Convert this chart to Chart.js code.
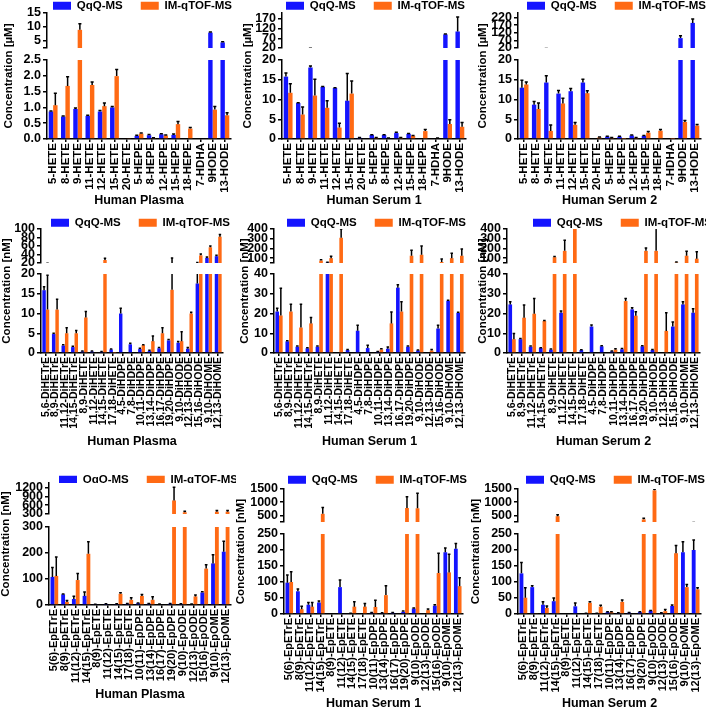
<!DOCTYPE html>
<html>
<head>
<meta charset="utf-8">
<script src="https://cdn.jsdelivr.net/npm/chart.js@4.4.1/dist/chart.umd.min.js"></script>
<style>
  html, body { margin: 0; padding: 0; background: #fff; overflow: hidden; }
  #wrap { position: relative; width: 706px; height: 708px; }
  #wrap canvas { position: absolute; }
</style>
</head>
<body>
<div id="wrap"></div>
<script>
// categorias
const hydroxyLabels = ['5-HETE', '8-HETE', '9-HETE', '11-HETE', '12-HETE', '15-HETE', '20-HETE', '5-HEPE',
  '8-HEPE', '12-HEPE', '15-HEPE', '18-HEPE', '7-HDHA', '9HODE', '13-HODE'];
const diolLabels = ['5,6-DiHETrE', '8,9-DiHETrE', '11,12-DiHETrE', '14,15-DiHETrE', '8,9-DiHETE', '11,12-DiHETE',
  '14,15-DiHETE', '17,18-DiHETE', '4,5-DiHDPE', '7,8-DiHDPE', '10,11-DiHDPE', '13,14-DiHDPE', '16,17-DiHDPE',
  '19,20-DiHDPE', '9,10-DiHODE', '12,13-DiHODE', '15,16-DiHODE', '9,10-DiHOME', '12,13-DiHOME'];
const epoxLabels = ['5(6)-EpETrE', '8(9)-EpETrE', '11(12)-EpETrE', '14(15)-EpETrE', '8(9)-EpETE', '11(12)-EpETE',
  '14(15)-EpETE', '17(18)-EpETE', '10(11)-EpDPE', '13(14)-EpDPE', '16(17)-EpDPE', '19(20)-EpDPE', '9(10)-EpODE',
  '12(13)-EpODE', '15(16)-EpODE', '9(10)-EpOME', '12(13)-EpOME'];

// hidroxi (µM)
const plasmaHydroxyQqQ = [0.87, 0.71, 0.95, 0.73, 0.87, 1.0, 0, 0.10, 0.12, 0.15, 0.13, 0, 0, 8.0, 4.5];
const plasmaHydroxyQqQErr = [0.02, 0.02, 0.03, 0.02, 0.03, 0.03, 0, 0.02, 0.02, 0.02, 0.03, 0, 0, 0.2, 0.2];
const plasmaHydroxyTof = [1.07, 1.68, 9.0, 1.71, 1.04, 1.99, 0.02, 0.17, 0.03, 0.11, 0.47, 0.33, 0, 0.93, 0.75];
const plasmaHydroxyTofErr = [0.38, 0.29, 2.2, 0.09, 0.1, 0.21, 0, 0.02, 0.01, 0.02, 0.08, 0.03, 0, 0.1, 0.08];

const serum1HydroxyQqQ = [15.8, 9.1, 18.1, 13.2, 12.9, 9.7, 0.3, 1.0, 1.0, 1.5, 1.3, 0, 0, 90, 105];
const serum1HydroxyQqQErr = [0.9, 0.1, 0.4, 0.1, 0.1, 6.9, 0.1, 0.1, 0.1, 0.2, 0.1, 0, 0, 2, 75];
const serum1HydroxyTof = [11.7, 6.2, 11.0, 7.9, 2.9, 11.5, 0, 0.3, 0.2, 0.3, 0.8, 2.0, 0.2, 3.8, 3.1];
const serum1HydroxyTofErr = [2.3, 1.9, 4.1, 1.8, 1.1, 3.2, 0, 0.05, 0.05, 0.05, 0.1, 0.4, 0.05, 1.1, 1.1];

const serum2HydroxyQqQ = [13.0, 8.7, 14.3, 11.5, 12.1, 14.3, 0, 0.6, 0.6, 0.9, 0.8, 0, 0, 85, 185];
const serum2HydroxyQqQErr = [1.9, 0.8, 1.7, 0.8, 0.7, 0.8, 0, 0.1, 0.1, 0.1, 0.1, 0, 0, 15, 25];
const serum2HydroxyTof = [13.8, 7.6, 2.05, 9.0, 3.6, 11.6, 0.4, 0.3, 0.1, 0.3, 1.6, 2.1, 0.1, 4.3, 3.4];
const serum2HydroxyTofErr = [0.6, 1.5, 1.5, 1.3, 0.6, 0.6, 0.1, 0.05, 0, 0.05, 0.3, 0.3, 0, 0.4, 0.3];

// dióis (nM)
const plasmaDiolQqQ = [15.9, 4.8, 1.9, 1.5, 0.4, 0.4, 0.3, 0.9, 10.0, 2.2, 1.0, 0.5, 1.2, 3.2, 2.6, 1.1, 17.6, 32, 36];
const plasmaDiolQqQErr = [0.9, 0.2, 0.2, 0.2, 0.1, 0.1, 0.1, 0.1, 1.3, 0.3, 0.2, 0.2, 0.2, 0.2, 0.3, 0.3, 3.5, 2, 2];
const plasmaDiolTof = [11, 11, 5, 5, 9, 0.2, 27, 0.1, 0, 0, 2.0, 3.0, 5.0, 16, 3.0, 10, 38, 57, 82];
const plasmaDiolTofErr = [8.7, 2.6, 1.4, 0.7, 1.5, 0, 4, 0, 0, 0, 0.1, 1.3, 1.4, 16, 2.4, 0.3, 3, 3, 5];

const serum1DiolQqQ = [21, 5.9, 3.2, 2.4, 3.2, 55, 0, 1.5, 11.3, 2.5, 0.7, 2.2, 33.1, 3.2, 1.3, 0, 12.4, 26.4, 20.3];
const serum1DiolQqQErr = [1.7, 0.3, 0.3, 0.2, 0.3, 2, 0, 0.3, 2.7, 1.4, 0.1, 0.8, 1.4, 0.3, 0.2, 0, 1.6, 0.3, 0.3];
const serum1DiolTof = [19, 21, 12.9, 15, 75, 100, 310, 0, 0, 0, 1.8, 15, 21, 125, 135, 1.3, 60, 100, 125];
const serum1DiolTofErr = [13.8, 3.7, 11.8, 3, 8, 20, 90, 0, 0, 0, 0.3, 5.7, 5, 55, 90, 0.5, 30, 50, 70];

const serum2DiolQqQ = [24.6, 7.0, 3.2, 2.5, 1.7, 20.4, 0, 1.5, 13.4, 3.4, 0.8, 1.9, 22.1, 3.4, 1.5, 0, 13.4, 24.6, 20.4];
const serum2DiolQqQErr = [1.3, 0.3, 0.3, 0.2, 0.3, 0.9, 0, 0.2, 0.8, 0.3, 0.2, 0.4, 0.8, 0.3, 0.3, 0, 2.3, 1.3, 2];
const serum2DiolTof = [7.0, 17.9, 19.9, 16.2, 110, 175, 420, 0, 0, 0, 1.7, 26.3, 18.9, 175, 175, 11.2, 55, 125, 95];
const serum2DiolTofErr = [2.9, 6.4, 7.7, 0.3, 8, 110, 0, 0, 0, 0, 0.4, 1.3, 2, 30, 250, 9.2, 5, 45, 70];

// epóxidos (nM)
const plasmaEpoxQqQ = [108, 41, 23, 35, 2, 4, 4, 5, 7, 5, 3, 5, 4, 3, 48, 160, 205];
const plasmaEpoxQqQErr = [36, 1, 11, 15, 0.5, 1, 1, 1, 1, 1, 1, 1, 1, 1, 3, 33, 40];
const plasmaEpoxTof = [112, 12, 96, 197, 0, 0, 43, 20, 35, 20, 0, 760, 360, 33, 140, 380, 380];
const plasmaEpoxTofErr = [73, 5, 25, 46, 0, 0, 4, 8, 5, 12, 0, 450, 30, 5, 15, 35, 35];

const serum1EpoxQqQ = [98, 71, 29, 36, 0, 84, 2, 0, 4, 3, 4, 7, 17, 0, 26, 193, 204];
const serum1EpoxQqQErr = [24, 7, 7, 5, 0, 22, 0.5, 0, 1, 1, 1, 2, 2, 0, 3, 13, 16];
const serum1EpoxTof = [100, 15, 23, 560, 0, 0, 23, 23, 22, 59, 0, 780, 770, 12, 128, 130, 87];
const serum1EpoxTofErr = [32, 9, 13, 240, 0, 0, 15, 10, 21, 29, 0, 430, 570, 4, 62, 57, 26];

const serum2EpoxQqQ = [127, 84, 29, 40, 0, 24, 2, 2, 6, 3, 4, 6, 10, 3, 25, 193, 200];
const serum2EpoxQqQErr = [34, 4, 9, 10, 0, 10, 0.5, 0.5, 1, 1, 1, 1, 1, 1, 3, 33, 31];
const serum2EpoxTof = [51, 2, 19, 470, 0, 0, 35, 23, 6, 38, 0, 350, 1450, 9, 190, 84, 77];
const serum2EpoxTofErr = [31, 0, 6, 55, 0, 0, 3, 4, 1, 6, 0, 40, 40, 5, 24, 8, 5];

// ticks dos eixos (segmento de cima / de baixo)
const plasmaHydroxyTopTicks = [5, 10, 15];
const plasmaHydroxyBottomTicks = [0, 0.5, 1, 1.5, 2, 2.5];
const serum1HydroxyTopTicks = [20, 70, 120, 170];
const serum2HydroxyTopTicks = [20, 70, 120, 170, 220];
const hydroxyBottomTicks = [0, 5, 10, 15, 20];
const plasmaDiolTopTicks = [20, 40, 60, 80, 100];
const plasmaDiolBottomTicks = [0, 5, 10, 15, 20];
const serumDiolTopTicks = [100, 200, 300, 400];
const serumDiolBottomTicks = [0, 10, 20, 30, 40];
const plasmaEpoxTopTicks = [300, 600, 900, 1200];
const plasmaEpoxBottomTicks = [0, 100, 200, 300];
const serumEpoxTopTicks = [500, 1000, 1500];
const serumEpoxBottomTicks = [0, 50, 100, 150, 200, 250];

Chart.defaults.font.family = "'Liberation Sans', Arial, sans-serif";
Chart.defaults.font.weight = 'bold';
Chart.defaults.font.size = 11;
Chart.defaults.color = '#000';

const BLUE = '#1414ff';
const ORANGE = '#ff6a14';

// barras de erro (só para cima)
const errorBars = {
  id: 'errorBars',
  afterDatasetsDraw(chart) {
    const { ctx, chartArea: a } = chart;
    const y = chart.scales.y;
    ctx.save();
    ctx.beginPath();
    ctx.rect(a.left, a.top, a.right - a.left, a.bottom - a.top);
    ctx.clip();
    ctx.strokeStyle = '#000';
    ctx.lineWidth = 1.5;
    chart.data.datasets.forEach((ds, i) => {
      chart.getDatasetMeta(i).data.forEach((bar, j) => {
        const v = ds.data[j], e = ds.errors[j];
        if (!e) return;
        const yv = y.getPixelForValue(v);
        const ye = y.getPixelForValue(v + e);
        const half = bar.width * 0.35;
        ctx.beginPath();
        ctx.moveTo(bar.x, yv);
        ctx.lineTo(bar.x, ye);
        ctx.moveTo(bar.x - half, ye);
        ctx.lineTo(bar.x + half, ye);
        ctx.stroke();
      });
    });
    ctx.restore();
  }
};

// título do eixo y centrado nos dois segmentos
const yTitle = {
  id: 'yTitle',
  afterDraw(chart, args, opts) {
    const ctx = chart.ctx;
    ctx.save();
    ctx.translate(opts.x, opts.y);
    ctx.rotate(-Math.PI / 2);
    ctx.font = "bold 11.5px 'Liberation Sans', Arial, sans-serif";
    ctx.fillStyle = '#000';
    ctx.textAlign = 'center';
    ctx.textBaseline = 'middle';
    ctx.fillText(opts.text, 0, 0);
    ctx.restore();
  }
};

// altura fixa da legenda e posição do fim
const legendPlace = {
  id: 'legendPlace',
  beforeInit(chart, args, opts) {
    const fit = chart.legend.fit;
    chart.legend.fit = function () {
      fit.call(this);
      this.height = opts.height;
    };
  },
  afterLayout(chart, args, opts) {
    const lg = chart.legend;
    const dx = opts.end - (lg.right - lg.options.labels.padding);
    lg.left += dx;
    lg.right += dx;
  }
};

const panels = [
  { x: 0, axis: 47, right: 231, legendY: 5, legendEnd: 232, top: [13, 48], bot: [60, 139], titleY: 201, titleX: 9,
    title: 'Human Plasma', unit: 'Concentration [µM]', labels: hydroxyLabels, botDec: 1, xFont: 11.5,
    qqq: plasmaHydroxyQqQ, qqqErr: plasmaHydroxyQqQErr, tof: plasmaHydroxyTof, tofErr: plasmaHydroxyTofErr,
    topRange: [2.5, 15], topTicks: plasmaHydroxyTopTicks, botRange: [0, 2.5], botTicks: plasmaHydroxyBottomTicks },
  { x: 235, axis: 282, right: 466, legendY: 5, legendEnd: 465, top: [13, 48], bot: [60, 139], titleY: 201, titleX: 248,
    title: 'Human Serum 1', unit: 'Concentration [µM]', labels: hydroxyLabels, botDec: 0, xFont: 11.5,
    qqq: serum1HydroxyQqQ, qqqErr: serum1HydroxyQqQErr, tof: serum1HydroxyTof, tofErr: serum1HydroxyTofErr,
    topRange: [20, 200], topTicks: serum1HydroxyTopTicks, botRange: [0, 20], botTicks: hydroxyBottomTicks },
  { x: 470, axis: 518, right: 701, legendY: 5, legendEnd: 706, top: [13, 48], bot: [60, 139], titleY: 201, titleX: 483,
    title: 'Human Serum 2', unit: 'Concentration [µM]', labels: hydroxyLabels, botDec: 0, xFont: 11.5,
    qqq: serum2HydroxyQqQ, qqqErr: serum2HydroxyQqQErr, tof: serum2HydroxyTof, tofErr: serum2HydroxyTofErr,
    topRange: [20, 250], topTicks: serum2HydroxyTopTicks, botRange: [0, 20], botTicks: hydroxyBottomTicks },

  { x: 0, axis: 41, right: 223, legendY: 222, legendEnd: 230, top: [229, 263], bot: [274, 353], titleY: 442, titleX: 7,
    title: 'Human Plasma', unit: 'Concentration [nM]', labels: diolLabels, botDec: 0, xFont: 10.5,
    qqq: plasmaDiolQqQ, qqqErr: plasmaDiolQqQErr, tof: plasmaDiolTof, tofErr: plasmaDiolTofErr,
    topRange: [20, 100], topTicks: plasmaDiolTopTicks, botRange: [0, 20], botTicks: plasmaDiolBottomTicks },
  { x: 235, axis: 274, right: 465, legendY: 222, legendEnd: 466, top: [229, 263], bot: [274, 353], titleY: 442, titleX: 245,
    title: 'Human Serum 1', unit: 'Concentration [nM]', labels: diolLabels, botDec: 0, xFont: 10.5,
    qqq: serum1DiolQqQ, qqqErr: serum1DiolQqQErr, tof: serum1DiolTof, tofErr: serum1DiolTofErr,
    topRange: [50, 400], topTicks: serumDiolTopTicks, botRange: [0, 40], botTicks: serumDiolBottomTicks },
  { x: 470, axis: 507, right: 700, legendY: 222, legendEnd: 712, top: [229, 263], bot: [274, 353], titleY: 442, titleX: 483,
    title: 'Human Serum 2', unit: 'Concentration [nM]', labels: diolLabels, botDec: 0, xFont: 10.5,
    qqq: serum2DiolQqQ, qqqErr: serum2DiolQqQErr, tof: serum2DiolTof, tofErr: serum2DiolTofErr,
    topRange: [50, 400], topTicks: serumDiolTopTicks, botRange: [0, 40], botTicks: serumDiolBottomTicks },

  { x: 0, axis: 49, right: 231, legendY: 479, legendEnd: 238, top: [483, 514], bot: [527, 605], titleY: 695, titleX: 6,
    title: 'Human Plasma', unit: 'Concentration [nM]', labels: epoxLabels, botDec: 0, xFont: 11,
    qqq: plasmaEpoxQqQ, qqqErr: plasmaEpoxQqQErr, tof: plasmaEpoxTof, tofErr: plasmaEpoxTofErr,
    topRange: [300, 1350], topTicks: plasmaEpoxTopTicks, botRange: [0, 300], botTicks: plasmaEpoxBottomTicks },
  { x: 235, axis: 284, right: 463, legendY: 479, legendEnd: 467, top: [489, 522], bot: [534, 614], titleY: 704, titleX: 241,
    title: 'Human Serum 1', unit: 'Concentration [nM]', labels: epoxLabels, botDec: 0, xFont: 11,
    qqq: serum1EpoxQqQ, qqqErr: serum1EpoxQqQErr, tof: serum1EpoxTof, tofErr: serum1EpoxTofErr,
    topRange: [250, 1500], topTicks: serumEpoxTopTicks, botRange: [0, 250], botTicks: serumEpoxBottomTicks },
  { x: 470, axis: 518, right: 701, legendY: 479, legendEnd: 705, top: [489, 522], bot: [534, 614], titleY: 704, titleX: 476,
    title: 'Human Serum 2', unit: 'Concentration [nM]', labels: epoxLabels, botDec: 0, xFont: 11,
    qqq: serum2EpoxQqQ, qqqErr: serum2EpoxQqQErr, tof: serum2EpoxTof, tofErr: serum2EpoxTofErr,
    topRange: [250, 1500], topTicks: serumEpoxTopTicks, botRange: [0, 250], botTicks: serumEpoxBottomTicks }
];

function drawPanel(p) {
  const wrap = document.getElementById('wrap');
  const pad = 18;
  const W = 236;
  const y0 = Math.round(p.legendY - pad - 5.5);
  const H = Math.round(p.titleY + 7.2 - y0);
  const yW = p.axis - p.x;
  const padR = p.x + W - p.right;

  function newCanvas() {
    const c = document.createElement('canvas');
    c.width = W;
    c.height = H;
    c.style.left = p.x + 'px';
    c.style.top = y0 + 'px';
    c.style.width = W + 'px';
    c.style.height = H + 'px';
    wrap.appendChild(c);
    return c;
  }

  const datasets = () => [
    { label: 'QqQ-MS', data: p.qqq.slice(), errors: p.qqqErr, backgroundColor: BLUE, borderColor: BLUE,
      borderWidth: 0, categoryPercentage: 0.72, barPercentage: 1 },
    { label: 'IM-qTOF-MS', data: p.tof.slice(), errors: p.tofErr, backgroundColor: ORANGE, borderColor: ORANGE,
      borderWidth: 0, categoryPercentage: 0.72, barPercentage: 1 }
  ];

  function yAxis(range, ticks, dec) {
    const vals = [range[0]].concat(ticks.filter(v => v !== range[0]));
    return {
      min: range[0],
      max: range[1],
      stacked: false,
      afterFit: s => { s.width = yW; s.paddingTop = 0; s.paddingBottom = 0; },
      afterBuildTicks: s => { s.ticks = vals.map(v => ({ value: v })); },
      ticks: {
        autoSkip: false,
        padding: 2,
        font: { size: 12.5 },
        callback: v => ticks.includes(v) ? v.toFixed(dec) : ''
      },
      grid: { drawOnChartArea: false, tickLength: 4, color: '#000', lineWidth: 1.5 },
      border: { color: '#000', width: 1.5 }
    };
  }

  // segmento de baixo + rótulos
  const cBottom = newCanvas();
  new Chart(cBottom, {
    type: 'bar',
    data: { labels: p.labels, datasets: datasets() },
    options: {
      responsive: false,
      animation: false,
      layout: { padding: { top: p.bot[0] - y0, right: padR, bottom: 0, left: 0 } },
      plugins: {
        legend: { display: false },
        tooltip: { enabled: false },
        yTitle: { text: p.unit, x: p.titleX - p.x, y: (p.top[0] + p.bot[1]) / 2 - y0 }
      },
      scales: {
        x: {
          ticks: { autoSkip: false, minRotation: 90, maxRotation: 90, padding: 1, font: { size: p.xFont } },
          grid: { offset: false, drawOnChartArea: false, tickLength: 3, color: '#000', lineWidth: 1.5 },
          border: { color: '#000', width: 1.5 },
          title: { display: true, text: p.title, font: { size: 12.5 }, padding: 0 },
          afterFit: s => { s.height = y0 + H - p.bot[1]; s.paddingLeft = 0; s.paddingRight = 0; }
        },
        y: yAxis(p.botRange, p.botTicks, p.botDec)
      }
    },
    plugins: [errorBars, yTitle]
  });

  // segmento de cima + legenda
  const cTop = newCanvas();
  new Chart(cTop, {
    type: 'bar',
    data: { labels: p.labels, datasets: datasets() },
    options: {
      responsive: false,
      animation: false,
      layout: { padding: { top: 0, right: padR, bottom: y0 + H - p.top[1], left: 0 } },
      plugins: {
        legend: {
          display: true,
          align: 'end',
          labels: { boxWidth: 18, boxHeight: 8, padding: pad, font: { size: 11.5 }, color: '#000' }
        },
        tooltip: { enabled: false },
        legendPlace: { height: p.top[0] - y0, end: p.legendEnd - p.x }
      },
      scales: {
        x: { display: false },
        y: yAxis(p.topRange, p.topTicks, 0)
      }
    },
    plugins: [errorBars, legendPlace]
  });
}

panels.forEach(drawPanel);
</script>
</body>
</html>
